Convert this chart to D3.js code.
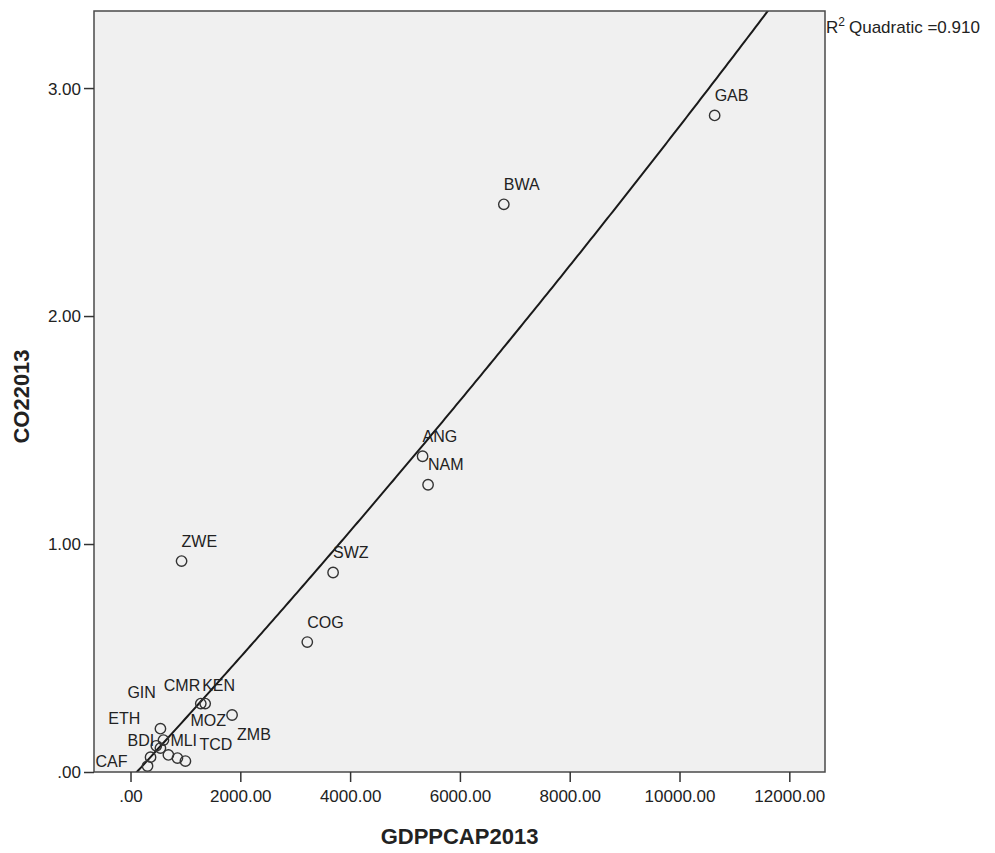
<!DOCTYPE html>
<html>
<head>
<meta charset="utf-8">
<script src="https://cdn.jsdelivr.net/npm/d3@7"></script>
<style>
  body { margin: 0; background: #fff; }
  text { font-family: Arial, "Liberation Sans", sans-serif; fill: #222; }
</style>
</head>
<body>
<div id="chart"></div>
<script>
// country codes, GDP per capita 2013, CO2 per capita 2013
var codes = ["GAB", "BWA", "ANG", "NAM", "SWZ", "COG", "ZWE", "CMR", "KEN", "ZMB",
             "GIN", "MOZ", "ETH", "MLI", "CAF", "BDI", "TCD", "", ""];
var gdp   = [10640, 6800, 5320, 5420, 3690, 3220, 930, 1280, 1360, 1850,
             545, 600, 470, 690, 365, 310, 1000, 855, 545];
var co2   = [2.88, 2.49, 1.385, 1.26, 0.875, 0.57, 0.925, 0.30, 0.30, 0.25,
             0.19, 0.14, 0.115, 0.075, 0.065, 0.026, 0.048, 0.061, 0.105];

var xTicks = [0, 2000, 4000, 6000, 8000, 10000, 12000];
var yTicks = [0, 1, 2, 3];
var rsqText = "Quadratic =0.910";

// labels that SPSS pushed away from their point (pixel nudges)
var nudge = {
  GIN: [-33, -31], ETH: [-48, -22], BDI: [-20, -20], MLI: [2, -9],
  MOZ: [27, -14], TCD: [14, -11], CAF: [-55, 10], CMR: [-37, -13],
  KEN: [-3, -13], ZMB: [5, 25]
};

var W = 995, H = 853;
var pL = 94, pT = 11, pR = 825, pB = 772;

var svg = d3.select("#chart").append("svg")
    .attr("width", W)
    .attr("height", H);

var x = d3.scaleLinear().domain([-665, 12650]).range([pL, pR]);
var y = d3.scaleLinear().domain([0, 3.338]).range([pB, pT]);

var fmt = function(v) { return d3.format(".2f")(v).replace(/^0\./, "."); };

svg.append("rect")
    .attr("x", pL).attr("y", pT)
    .attr("width", pR - pL).attr("height", pB - pT)
    .style("fill", "#f0f0f0");

svg.append("clipPath").attr("id", "clip")
  .append("rect")
    .attr("x", pL).attr("y", pT)
    .attr("width", pR - pL).attr("height", pB - pT);

// quadratic least squares fit from the points
function quadFit(xs, ys) {
  var s = [0, 0, 0, 0, 0], t = [0, 0, 0];
  xs.forEach(function(xv, i) {
    var p = 1;
    for (var k = 0; k < 5; k++) { s[k] += p; if (k < 3) t[k] += p * ys[i]; p *= xv; }
  });
  var A = [[s[0], s[1], s[2], t[0]], [s[1], s[2], s[3], t[1]], [s[2], s[3], s[4], t[2]]];
  for (var c = 0; c < 3; c++) {
    for (var r = c + 1; r < 3; r++) {
      var f = A[r][c] / A[c][c];
      for (var k = c; k < 4; k++) A[r][k] -= f * A[c][k];
    }
  }
  var b = [0, 0, 0];
  for (var r = 2; r >= 0; r--) {
    var v = A[r][3];
    for (var k = r + 1; k < 3; k++) v -= A[r][k] * b[k];
    b[r] = v / A[r][r];
  }
  return b;
}
var coef = quadFit(gdp, co2);
var fitX = d3.range(-665, 12651, 50);

svg.append("path")
    .datum(fitX)
    .attr("clip-path", "url(#clip)")
    .attr("d", d3.line()
        .x(function(d) { return x(d); })
        .y(function(d) { return y(coef[0] + coef[1] * d + coef[2] * d * d); }))
    .style("fill", "none")
    .style("stroke", "#1a1a1a")
    .style("stroke-width", 2);

var pts = gdp.map(function(g, i) { return { code: codes[i], gdp: g, co2: co2[i] }; });

svg.selectAll("circle.pt").data(pts)
  .enter().append("circle")
    .attr("class", "pt")
    .attr("cx", function(d) { return x(d.gdp); })
    .attr("cy", function(d) { return y(d.co2); })
    .attr("r", 5.2)
    .style("fill", "none")
    .style("stroke", "#333")
    .style("stroke-width", 1.4);

svg.selectAll("text.lab").data(pts.filter(function(d) { return d.code; }))
  .enter().append("text")
    .attr("class", "lab")
    .attr("x", function(d) { return x(d.gdp) + (nudge[d.code] ? nudge[d.code][0] : 0); })
    .attr("y", function(d) { return y(d.co2) + (nudge[d.code] ? nudge[d.code][1] : -14.5); })
    .style("font-size", "16px")
    .text(function(d) { return d.code; });

svg.append("rect")
    .attr("x", pL).attr("y", pT)
    .attr("width", pR - pL).attr("height", pB - pT)
    .style("fill", "none")
    .style("stroke", "#4a4a4a")
    .style("stroke-width", 1.5);

var xAxis = svg.append("g")
    .attr("transform", "translate(0," + pB + ")")
    .call(d3.axisBottom(x).tickValues(xTicks).tickFormat(fmt).tickSize(10).tickPadding(8));
var yAxis = svg.append("g")
    .attr("transform", "translate(" + pL + ",0)")
    .call(d3.axisLeft(y).tickValues(yTicks).tickFormat(fmt).tickSize(10).tickPadding(3));

[xAxis, yAxis].forEach(function(a) {
  a.select(".domain").remove();
  a.selectAll(".tick line").style("stroke", "#333").style("stroke-width", 1.5);
  a.selectAll(".tick text")
      .style("font-family", "Arial, 'Liberation Sans', sans-serif")
      .style("font-size", "17px")
      .style("fill", "#222");
});
yAxis.selectAll(".tick text").attr("dy", "0.35em");

svg.append("text")
    .attr("x", (pL + pR) / 2)
    .attr("y", 844)
    .attr("text-anchor", "middle")
    .style("font-size", "22px")
    .style("font-weight", "bold")
    .text("GDPPCAP2013");

svg.append("text")
    .attr("transform", "translate(29," + ((pT + pB) / 2 + 5) + ") rotate(-90)")
    .attr("text-anchor", "middle")
    .style("font-size", "22px")
    .style("font-weight", "bold")
    .text("CO22013");

var rsq = svg.append("text")
    .attr("x", 826)
    .attr("y", 33)
    .style("font-size", "17px");
rsq.append("tspan").text("R");
rsq.append("tspan").attr("dy", -7).style("font-size", "12px").text("2");
rsq.append("tspan").attr("dy", 7).attr("dx", 4).text(rsqText);
</script>
</body>
</html>
